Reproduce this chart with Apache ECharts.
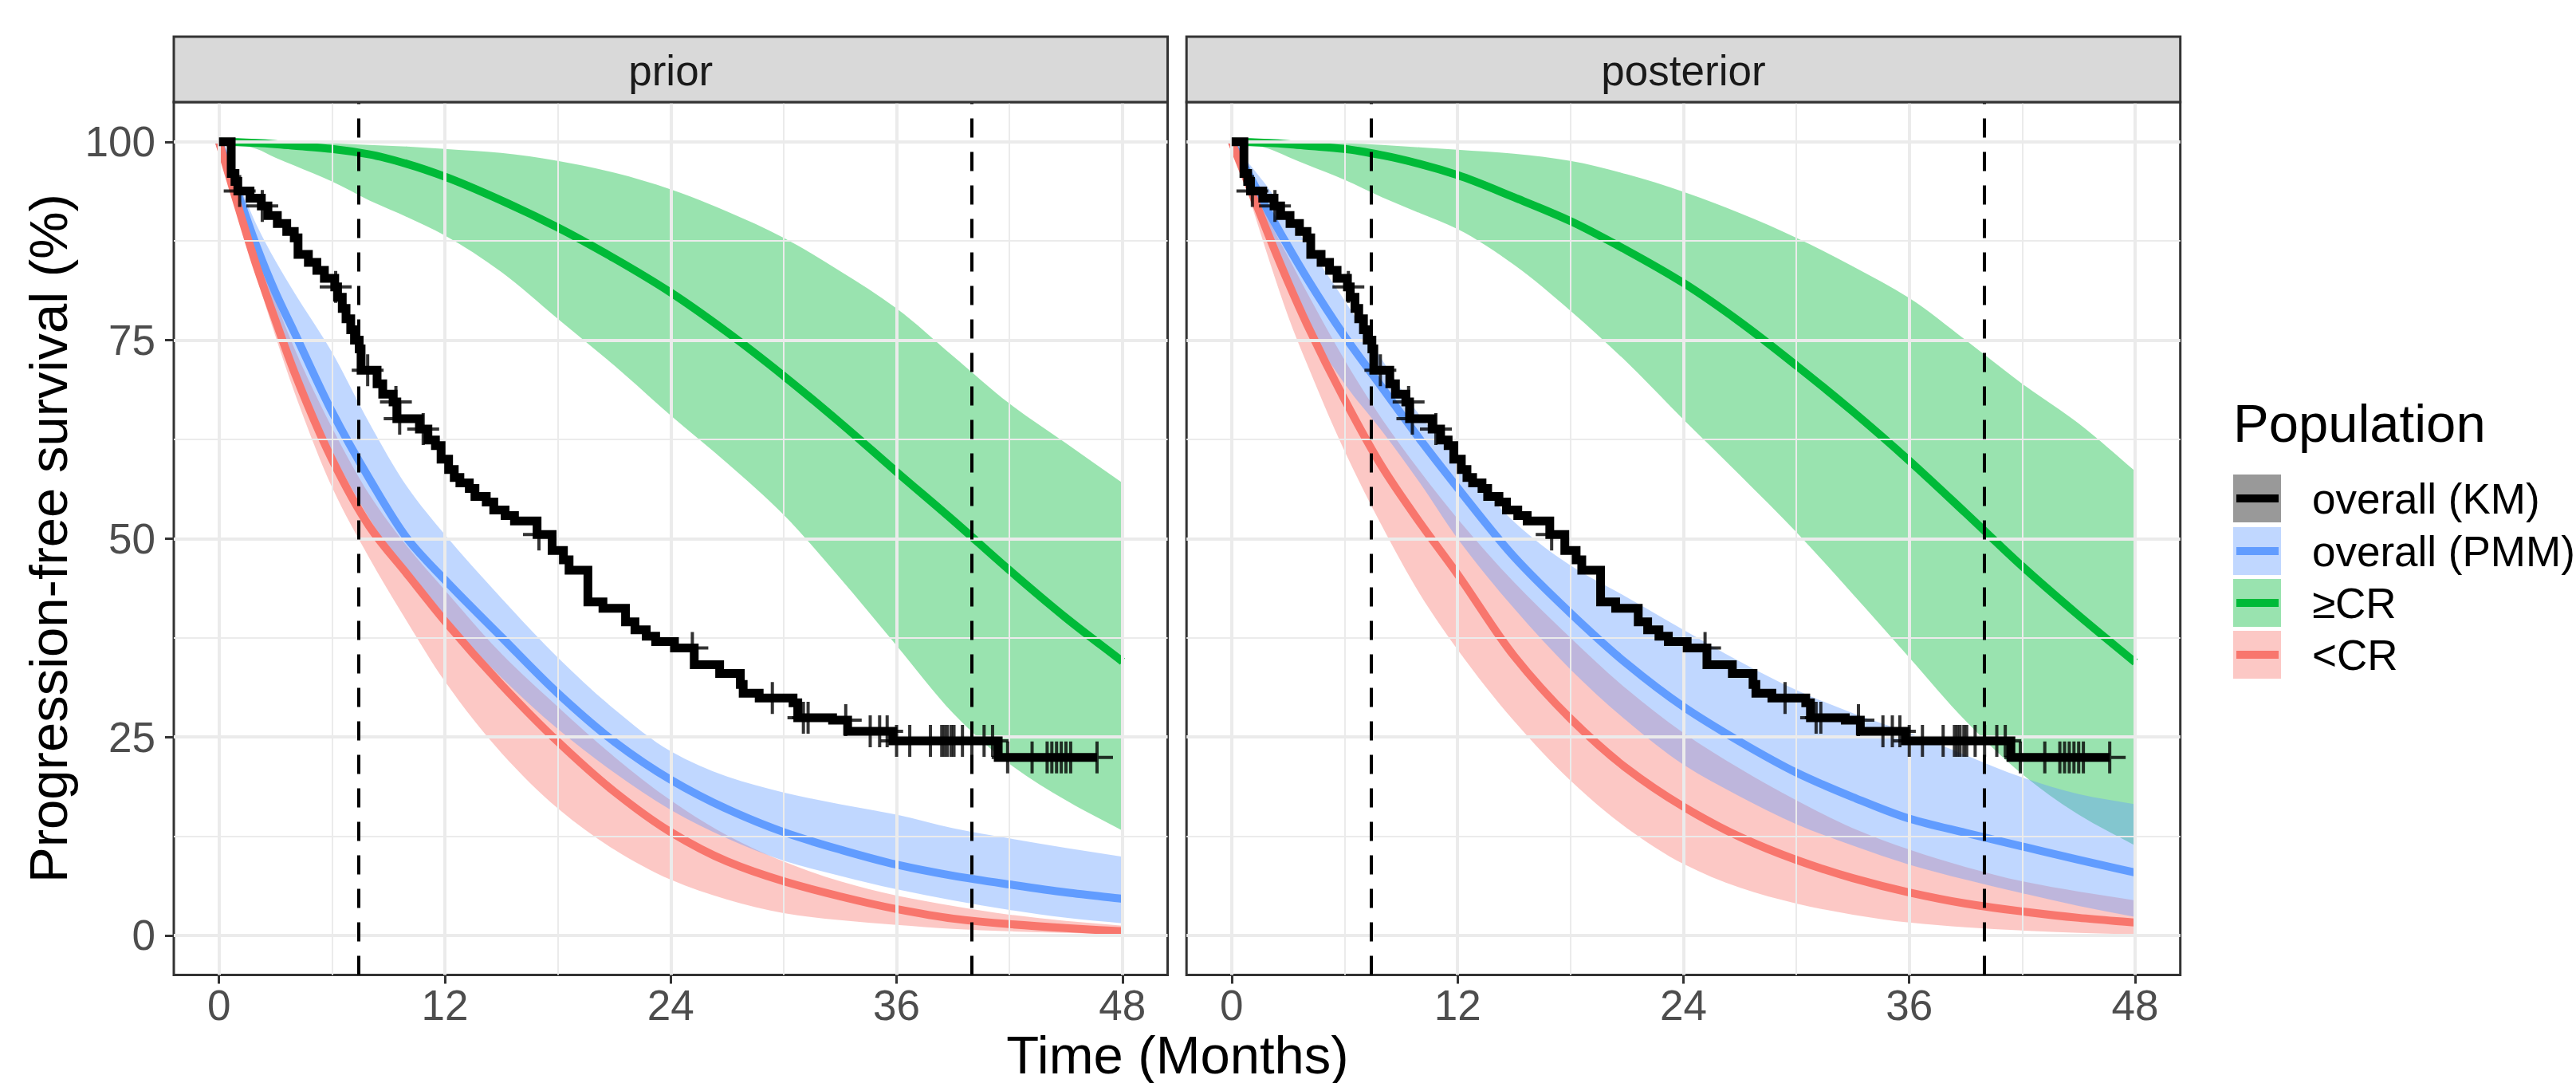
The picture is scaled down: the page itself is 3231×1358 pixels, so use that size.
<!DOCTYPE html>
<html><head><meta charset="utf-8">
<script src="https://cdn.jsdelivr.net/npm/echarts@6/dist/echarts.min.js"></script>
<style>html,body{margin:0;padding:0;background:#fff}#c{width:3231px;height:1358px}</style>
</head><body><div id="c"></div><script>
// ---------------- DATA ----------------
const panelNames = ['prior', 'posterior'];
const xTicks = [0, 12, 24, 36, 48];
const yTicks = [0, 25, 50, 75, 100];
const xMinor = [6, 18, 30, 42];
const yMinor = [12.5, 37.5, 62.5, 87.5];
const refLines = [7.4, 40];

// model time grid (months)
const T = [0,1,2,3,4,6,8,10,12,15,18,21,24,27,30,33,36,39,42,45,48];

// prior
const priorCRLine = [100,99.95,99.85,99.7,99.5,99.1,98.4,97.2,95.6,92.6,89.2,85.3,81.0,76.0,70.5,64.6,58.4,52.3,46.0,40.0,34.5];
const priorCRHi   = [100,100,100,100,99.9,99.8,99.6,99.4,99.1,98.6,97.6,96.1,94.0,91.2,87.9,83.7,79.0,73.0,67.0,62.0,57.0];
const priorCRLo   = [100,99.7,99.1,98.0,97.0,95.0,92.6,90.5,88.2,83.6,77.7,71.8,65.5,59.5,53.0,45.0,36.5,28.0,21.6,17.0,13.2];
const priorPMMLine = [100,93.5,86.8,81.0,76.0,66.0,57.5,50.0,44.8,37.6,30.5,24.4,19.6,15.9,13.0,10.8,8.9,7.5,6.4,5.4,4.6];
const priorPMMHi   = [100,95,89.5,85,81,73.5,64.5,56.5,50.5,42.5,35.0,28.5,23.2,20.0,18.0,16.5,15.2,13.5,12.2,11.0,9.9];
const priorPMMLo   = [100,92,84,77.5,71.5,61,52.5,45.5,40.0,32.5,26.0,20.5,15.8,12.2,9.4,7.5,5.8,4.4,3.2,2.2,1.5];
const priorNCRLine = [100,92,84.3,77.5,71.0,60.0,51.5,45.5,39.6,31.6,24.4,18.1,13.0,9.3,6.8,4.9,3.3,2.1,1.4,0.9,0.5];
const priorNCRHi   = [100,93.5,86.5,80,74,64,55.5,49,43.5,35.5,28.8,22.5,17.0,12.6,9.3,6.8,5.0,3.7,2.6,1.8,1.2];
const priorNCRLo   = [100,91,83,75.5,68.5,56.5,47.5,39.5,32.0,23.0,16.0,10.8,7.0,4.5,2.8,1.9,1.3,0.8,0.5,0.3,0.1];

// posterior
const postCRLine = [100,99.95,99.85,99.7,99.5,99.1,98.3,97.2,95.8,93.0,90.0,86.3,82.2,77.3,71.8,66.0,59.8,53.2,46.5,40.3,34.4];
const postCRHi   = [100,100,100,100,99.9,99.8,99.6,99.3,99.0,98.5,97.6,95.9,93.7,91.0,87.9,84.3,80.3,75.0,69.5,64.5,58.5];
const postCRLo   = [100,99.7,99.1,98.1,97.1,95.2,93.0,91.0,89.0,84.5,78.7,72.2,65.0,58.0,50.8,43.0,35.0,27.0,20.3,15.2,11.3];
const postPMMLine = [100,95.5,91,86.8,82.8,75.5,69.0,62.5,56.4,47.7,40.6,34.2,28.8,24.4,20.5,17.4,14.7,12.9,11.2,9.5,7.9];
const postPMMHi   = [100,97,94,90.5,87,80,72.5,65.5,60.2,52.1,46.6,42.6,38.5,34.5,30.9,28.0,25.5,22.7,19.9,17.8,16.5];
const postPMMLo   = [100,93.5,87.5,82,77,69.5,63.5,57,50,41.2,33.5,27,21.5,17.5,14.0,11.3,8.9,7.0,5.3,3.7,2.3];
const postNCRLine = [100,94,88,82.3,77,67.5,59,52,45.5,35.2,27.3,21.0,16.2,12.4,9.5,7.2,5.4,4.0,3.0,2.2,1.6];
const postNCRHi   = [100,95,90,85.5,81,72.5,65,58.5,52.5,44.5,37.5,31,25.5,21,17,13.5,10.8,8.6,6.8,5.5,4.4];
const postNCRLo   = [100,92.5,85,78,72,61,51.5,43,36,27,19.5,13.5,9.0,6.0,4.0,2.6,1.6,1.0,0.6,0.3,0.1];

// Kaplan-Meier (overall) step points
const kmTime = [0,0.65,0.85,1.0,1.65,2.25,2.6,3.1,3.6,4.0,4.2,4.75,5.2,5.6,6.15,6.3,6.55,6.75,7.0,7.2,7.45,7.55,8.4,8.7,9.25,9.45,10.65,11.1,11.5,11.8,12.2,12.5,12.8,13.3,13.6,14.2,14.6,15.2,15.7,16.9,17.7,18.3,18.6,19.6,20.4,21.6,22.1,22.7,23.2,24.2,25.25,26.6,27.7,27.85,28.7,30.5,30.75,32.6,33.4,35.8,41.4,46.65];
const kmSurv = [100,96.0,95.0,93.8,92.9,91.9,90.7,89.7,88.7,87.9,85.8,84.8,83.8,82.8,81.7,80.4,79.0,77.7,76.3,75.0,73.9,71.2,69.5,68.2,67.2,65.1,63.8,62.4,61.7,60.0,58.7,57.7,57.0,56.3,55.3,54.6,53.6,52.9,52.2,50.5,48.5,47.3,46.0,42.0,41.2,39.5,38.5,37.7,37.0,36.2,34.1,33.0,31.6,30.5,29.9,29.3,27.4,27.1,25.7,24.5,22.4,22.4];
// censoring marks
const censTime = [1.1,2.3,6.2,7.9,9.4,9.6,10.85,17.0,25.15,29.4,31.05,31.3,33.3,34.6,35.1,35.5,36.0,36.7,37.8,38.4,38.55,38.7,38.9,39.05,39.5,40.0,40.65,41.1,41.9,43.2,44.0,44.25,44.5,44.75,45.0,45.25,46.65];
const censSurv = [93.8,91.9,81.7,71.2,67.2,65.1,63.8,50.5,36.2,29.9,27.4,27.4,27.1,25.7,25.7,25.7,24.5,24.5,24.5,24.5,24.5,24.5,24.5,24.5,24.5,24.5,24.5,24.5,22.4,22.4,22.4,22.4,22.4,22.4,22.4,22.4,22.4];

const legendLabels = ['overall (KM)', 'overall (PMM)', '\u2265CR', '<CR'];

// ---------------- STYLE ----------------
const FONT = '"Liberation Sans", Arial, Helvetica, sans-serif';
const COL = { km: '#000000', pmm: '#619CFF', cr: '#00BA38', ncr: '#F8766D' };
const FILL = { pmm: 'rgba(97,156,255,0.4)', cr: 'rgba(0,186,56,0.4)', ncr: 'rgba(248,118,109,0.4)' };
const KEYFILL = ['#999999', '#C0D7FF', '#99E3AF', '#FCC8C5'];
const KEYLINE = [COL.km, COL.pmm, COL.cr, COL.ncr];
const grids = [
  { left: 218, top: 128, width: 1246.5, height: 1094.5 },
  { left: 1488.2, top: 128, width: 1246.5, height: 1094.5 }
];

const panelData = [
  { cr: [priorCRLine, priorCRLo, priorCRHi], pmm: [priorPMMLine, priorPMMLo, priorPMMHi], ncr: [priorNCRLine, priorNCRLo, priorNCRHi] },
  { cr: [postCRLine, postCRLo, postCRHi], pmm: [postPMMLine, postPMMLo, postPMMHi], ncr: [postNCRLine, postNCRLo, postNCRHi] }
];

const pairs = (xs, ys) => xs.map((x, i) => [x, ys[i]]);

// monotone (Fritsch-Carlson) cubic segments through pixel points (x ascending)
function monoSegs(p) {
  const n = p.length, h = [], d = [], m = [];
  for (let k = 0; k < n - 1; k++) { h[k] = p[k + 1][0] - p[k][0]; d[k] = (p[k + 1][1] - p[k][1]) / h[k]; }
  m[0] = d[0]; m[n - 1] = d[n - 2];
  for (let k = 1; k < n - 1; k++) {
    if (d[k - 1] * d[k] <= 0) m[k] = 0;
    else { const w1 = 2 * h[k] + h[k - 1], w2 = h[k] + 2 * h[k - 1]; m[k] = (w1 + w2) / (w1 / d[k - 1] + w2 / d[k]); }
  }
  const segs = [];
  for (let k = 0; k < n - 1; k++) {
    segs.push([[p[k][0] + h[k] / 3, p[k][1] + m[k] * h[k] / 3], [p[k + 1][0] - h[k] / 3, p[k + 1][1] - m[k + 1] * h[k] / 3]]);
  }
  return segs;
}
const f = v => v.toFixed(2);
function curvePath(up) {
  const su = monoSegs(up);
  let s = 'M' + f(up[0][0]) + ',' + f(up[0][1]);
  for (let k = 0; k < su.length; k++) s += 'C' + f(su[k][0][0]) + ',' + f(su[k][0][1]) + ' ' + f(su[k][1][0]) + ',' + f(su[k][1][1]) + ' ' + f(up[k + 1][0]) + ',' + f(up[k + 1][1]);
  return s;
}
function ribbonPath(up, dn) {
  const sd = monoSegs(dn);
  let s = curvePath(up);
  const n = dn.length;
  s += 'L' + f(dn[n - 1][0]) + ',' + f(dn[n - 1][1]);
  for (let k = sd.length - 1; k >= 0; k--) s += 'C' + f(sd[k][1][0]) + ',' + f(sd[k][1][1]) + ' ' + f(sd[k][0][0]) + ',' + f(sd[k][0][1]) + ' ' + f(dn[k][0]) + ',' + f(dn[k][1]);
  return s + 'Z';
}

const xAxes = [], yAxes = [], series = [], graphics = [];
grids.forEach((g, gi) => {
  xAxes.push({
    type: 'value', gridIndex: gi, min: -2.4, max: 50.4,
    axisLine: { show: false, onZero: false },
    axisTick: { show: true, customValues: xTicks, length: 11, lineStyle: { color: '#333333', width: 3 } },
    axisLabel: { show: true, customValues: xTicks, fontSize: 53, lineHeight: 46, color: '#4D4D4D', fontFamily: FONT, margin: 15 },
    splitLine: { show: false }
  });
  yAxes.push({
    type: 'value', gridIndex: gi, min: -5, max: 105,
    axisLine: { show: false, onZero: false },
    axisTick: { show: gi === 0, customValues: yTicks, length: 11, lineStyle: { color: '#333333', width: 3 } },
    axisLabel: { show: gi === 0, customValues: yTicks, fontSize: 53, color: '#4D4D4D', fontFamily: FONT, margin: 23 },
    splitLine: { show: false }
  });

  const base = { xAxisIndex: gi, yAxisIndex: gi, silent: true, animation: false };
  // gridlines
  const gl = [];
  xMinor.forEach(v => gl.push({ xAxis: v, lineStyle: { color: '#EBEBEB', width: 2, type: 'solid' } }));
  yMinor.forEach(v => gl.push({ yAxis: v, lineStyle: { color: '#EBEBEB', width: 2, type: 'solid' } }));
  xTicks.forEach(v => gl.push({ xAxis: v, lineStyle: { color: '#EBEBEB', width: 4, type: 'solid' } }));
  yTicks.forEach(v => gl.push({ yAxis: v, lineStyle: { color: '#EBEBEB', width: 4, type: 'solid' } }));
  series.push(Object.assign({}, base, {
    type: 'line', data: [], z: 1,
    markLine: { silent: true, symbol: ['none', 'none'], label: { show: false }, animation: false, data: gl }
  }));

  const pd = panelData[gi];
  // ribbons (drawn green, red, blue) via the axes' own scales
  ['cr', 'ncr', 'pmm'].forEach(k => {
    const lo = pd[k][1], hi = pd[k][2];
    series.push(Object.assign({}, base, {
      type: 'custom', z: 2, clip: false,
      data: T.map((t, i) => [t, lo[i], hi[i]]),
      encode: { x: 0, y: [1, 2] },
      renderItem: (params, api) => {
        if (params.dataIndex !== 0) return null;
        const up = T.map((t, i) => api.coord([t, hi[i]]));
        const dn = T.map((t, i) => api.coord([t, lo[i]]));
        return { type: 'path', shape: { pathData: ribbonPath(up, dn) }, style: { fill: FILL[k], stroke: null } };
      }
    }));
  });
  // dashed reference lines
  series.push(Object.assign({}, base, {
    type: 'line', data: [], z: 3,
    markLine: { silent: true, symbol: ['none', 'none'], label: { show: false }, animation: false,
      data: refLines.map(v => ({ xAxis: v })), lineStyle: { color: '#000000', width: 4, type: [24, 18] } }
  }));
  // mean lines (monotone curves through the read points)
  [['pmm', COL.pmm], ['cr', COL.cr], ['ncr', COL.ncr]].forEach(([k, c]) => {
    const vals = pd[k][0];
    series.push(Object.assign({}, base, {
      type: 'custom', z: 4, clip: false,
      data: pairs(T, vals),
      encode: { x: 0, y: 1 },
      renderItem: (params, api) => {
        if (params.dataIndex !== 0) return null;
        const pts = T.map((t, i) => api.coord([t, vals[i]]));
        return { type: 'path', shape: { pathData: curvePath(pts) }, style: { fill: 'none', stroke: c, lineWidth: 10, lineCap: 'butt', lineJoin: 'round' } };
      }
    }));
  });
  // KM step
  series.push(Object.assign({}, base, {
    type: 'line', step: 'end', data: pairs(kmTime, kmSurv), symbol: 'none', z: 5,
    lineStyle: { width: 11, color: COL.km, join: 'miter', cap: 'butt' }
  }));
  // censor marks
  series.push(Object.assign({}, base, {
    type: 'scatter', data: pairs(censTime, censSurv), z: 6,
    symbol: 'path://M18,0h4v18h18v4h-18v18h-4v-18h-18v-4h18z', symbolSize: 40,
    itemStyle: { color: '#000000' }
  }));

  // strip
  graphics.push({ type: 'rect', shape: { x: g.left, y: 46, width: g.width, height: 82 },
    style: { fill: '#D9D9D9', stroke: '#333333', lineWidth: 3 }, z: 10 });
  graphics.push({ type: 'text', x: g.left + g.width / 2, y: 88,
    style: { text: panelNames[gi], font: '53px ' + FONT, fill: '#1A1A1A', align: 'center', verticalAlign: 'middle', textAlign: 'center', textVerticalAlign: 'middle' }, z: 11 });
});

// axis titles
graphics.push({ type: 'text', x: 1477, y: 1322,
  style: { text: 'Time (Months)', font: '67px ' + FONT, lineHeight: 58, fill: '#000', align: 'center', verticalAlign: 'middle', textAlign: 'center', textVerticalAlign: 'middle' } });
graphics.push({ type: 'text', x: 60, y: 675, rotation: Math.PI / 2,
  style: { text: 'Progression-free survival (%)', font: '67px ' + FONT, fill: '#000', align: 'center', verticalAlign: 'middle', textAlign: 'center', textVerticalAlign: 'middle' } });

// legend
graphics.push({ type: 'text', x: 2801, y: 530,
  style: { text: 'Population', font: '67px ' + FONT, fill: '#000', align: 'left', verticalAlign: 'middle', textAlign: 'left', textVerticalAlign: 'middle' } });
const keyTops = [595, 661, 726, 791];
legendLabels.forEach((lab, i) => {
  const y0 = keyTops[i];
  graphics.push({ type: 'rect', shape: { x: 2801, y: y0, width: 60, height: 60 }, style: { fill: KEYFILL[i] } });
  graphics.push({ type: 'rect', shape: { x: 2805, y: y0 + 25, width: 53, height: 10 }, style: { fill: KEYLINE[i] } });
  graphics.push({ type: 'text', x: 2900, y: y0 + 30,
    style: { text: lab, font: '53px ' + FONT, fill: '#000', align: 'left', verticalAlign: 'middle', textAlign: 'left', textVerticalAlign: 'middle' } });
});

const chart = echarts.init(document.getElementById('c'), null, { renderer: 'svg', width: 3231, height: 1358 });
chart.setOption({
  animation: false,
  backgroundColor: '#ffffff',
  grid: grids.map(g => Object.assign({ show: true, backgroundColor: '#ffffff', borderColor: '#333333', borderWidth: 3, containLabel: false, outerBoundsMode: 'none' }, g)),
  xAxis: xAxes,
  yAxis: yAxes,
  series: series,
  graphic: { elements: graphics }
});
</script></body></html>
